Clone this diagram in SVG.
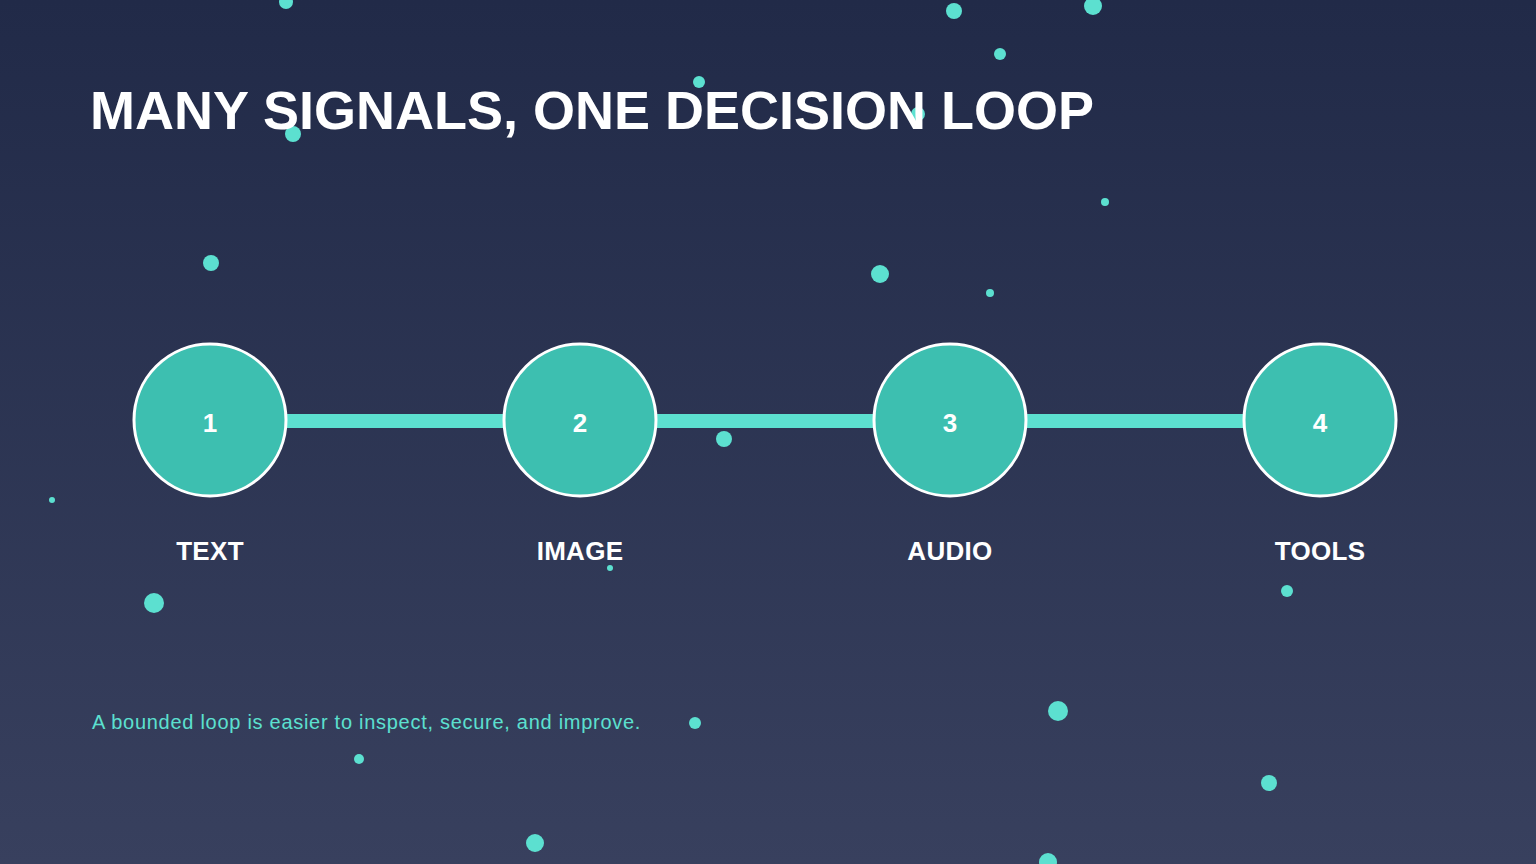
<svg xmlns="http://www.w3.org/2000/svg" width="1536" height="864" viewBox="0 0 1536 864">
  <defs>
    <linearGradient id="bg" x1="0" y1="0" x2="0" y2="1">
      <stop offset="0" stop-color="#212a48"/>
      <stop offset="1" stop-color="#38405e"/>
    </linearGradient>
  </defs>
  <style>
    .dot { fill: #5ce0d0; }
    .node circle { fill: #3dbfb0; stroke: #ffffff; stroke-width: 3; }
    .num { font-family: "Liberation Sans", Arial, sans-serif; font-weight: bold; font-size: 26px; fill: #ffffff; text-anchor: middle; }
    .lbl { font-family: "Liberation Sans", Arial, sans-serif; font-weight: bold; font-size: 26px; fill: #ffffff; text-anchor: middle; letter-spacing: 0.3px; }
    .title { font-family: "Liberation Sans", Arial, sans-serif; font-weight: bold; font-size: 54px; fill: #ffffff; }
    .caption { font-family: "Liberation Sans", Arial, sans-serif; font-size: 20px; fill: #5ce0d0; letter-spacing: 0.72px; }
    .conn { stroke: #5ce0d0; stroke-width: 14; }
  </style>
  <rect width="1536" height="864" fill="url(#bg)"/>
  <g id="dots">
    <circle class="dot" cx="286" cy="2" r="7"/>
    <circle class="dot" cx="954" cy="11" r="8"/>
    <circle class="dot" cx="1093" cy="6" r="9"/>
    <circle class="dot" cx="1000" cy="54" r="6"/>
    <circle class="dot" cx="699" cy="82" r="6"/>
    <circle class="dot" cx="293" cy="134" r="8"/>
    <circle class="dot" cx="918" cy="114" r="7"/>
    <circle class="dot" cx="1105" cy="202" r="4"/>
    <circle class="dot" cx="211" cy="263" r="8"/>
    <circle class="dot" cx="880" cy="274" r="9"/>
    <circle class="dot" cx="990" cy="293" r="4"/>
    <circle class="dot" cx="724" cy="439" r="8"/>
    <circle class="dot" cx="52" cy="500" r="3"/>
    <circle class="dot" cx="610" cy="568" r="3"/>
    <circle class="dot" cx="154" cy="603" r="10"/>
    <circle class="dot" cx="1287" cy="591" r="6"/>
    <circle class="dot" cx="695" cy="723" r="6"/>
    <circle class="dot" cx="1058" cy="711" r="10"/>
    <circle class="dot" cx="359" cy="759" r="5"/>
    <circle class="dot" cx="1269" cy="783" r="8"/>
    <circle class="dot" cx="535" cy="843" r="9"/>
    <circle class="dot" cx="1048" cy="862" r="9"/>
  </g>
  <text class="title" x="90" y="129">MANY SIGNALS, ONE DECISION LOOP</text>
  <g id="connectors">
    <line class="conn" x1="287" y1="421" x2="503" y2="421"/>
    <line class="conn" x1="657" y1="421" x2="873" y2="421"/>
    <line class="conn" x1="1027" y1="421" x2="1243" y2="421"/>
  </g>
  <g id="node1" class="node">
    <circle cx="210" cy="420" r="76"/>
    <text class="num" x="210" y="432">1</text>
    <text class="lbl" x="210" y="560">TEXT</text>
  </g>
  <g id="node2" class="node">
    <circle cx="580" cy="420" r="76"/>
    <text class="num" x="580" y="432">2</text>
    <text class="lbl" x="580" y="560">IMAGE</text>
  </g>
  <g id="node3" class="node">
    <circle cx="950" cy="420" r="76"/>
    <text class="num" x="950" y="432">3</text>
    <text class="lbl" x="950" y="560">AUDIO</text>
  </g>
  <g id="node4" class="node">
    <circle cx="1320" cy="420" r="76"/>
    <text class="num" x="1320" y="432">4</text>
    <text class="lbl" x="1320" y="560">TOOLS</text>
  </g>
  <text class="caption" x="92" y="729">A bounded loop is easier to inspect, secure, and improve.</text>
</svg>
